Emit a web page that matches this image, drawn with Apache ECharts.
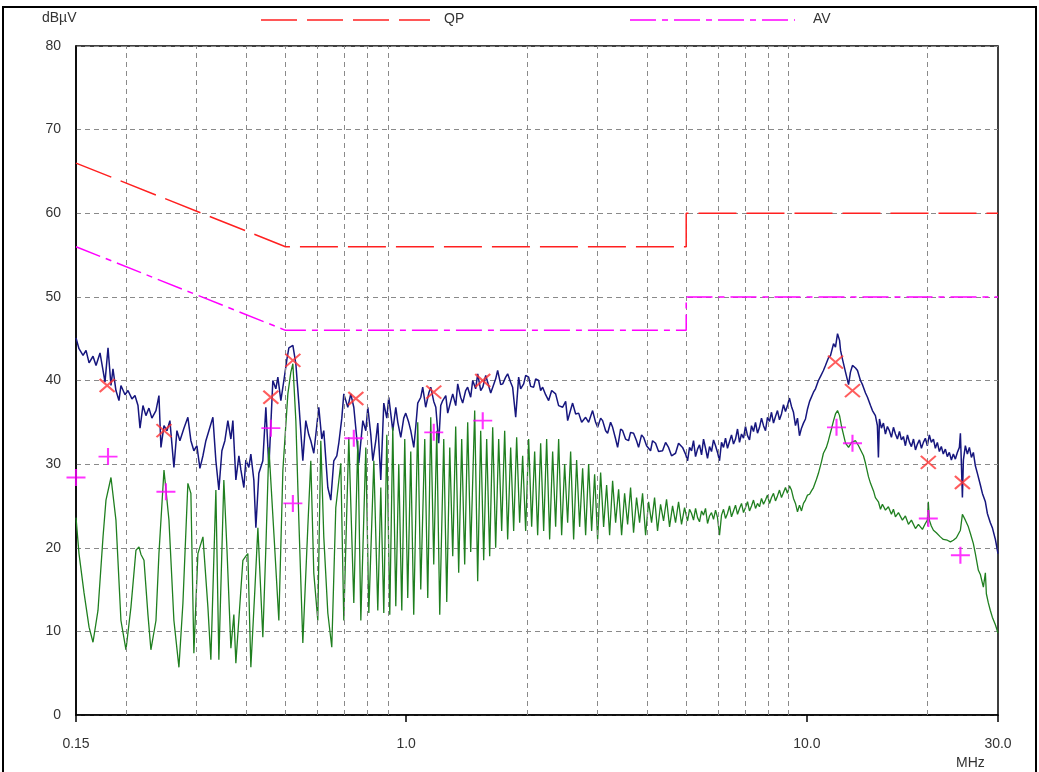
<!DOCTYPE html>
<html>
<head>
<meta charset="utf-8">
<script src="https://cdn.jsdelivr.net/npm/echarts@6/dist/echarts.min.js"></script>
<style>
  html, body { margin: 0; padding: 0; background: #fff; }
  #chart { width: 1039px; height: 772px; }
</style>
</head>
<body>
<div id="chart"></div>
<script>
// frequency in MHz, level in dBuV
let xTickValues = [0.15, 1, 10, 30];
let xGridValues = [0.2, 0.3, 0.4, 0.5, 0.6, 0.7, 0.8, 0.9, 2, 3, 4, 5, 6, 7, 8, 9, 20];

let qpLimit = [[0.15, 66], [0.5, 56], [5, 56], [5, 60], [30, 60]];
let avLimit = [[0.15, 56], [0.5, 46], [5, 46], [5, 50], [30, 50]];

let qpMarks = [[0.1794, 39.4], [0.2487, 34.0], [0.4596, 38.0], [0.5216, 42.4], [0.7490, 37.85],
  [1.172, 38.6], [1.553, 40.0], [11.79, 42.2], [13.00, 38.8], [20.10, 30.2], [24.45, 27.8]];
let avMarks = [[0.15, 28.4], [0.1803, 30.9], [0.2515, 26.7], [0.4596, 34.3], [0.5216, 25.3],
  [0.7403, 33.1], [1.172, 33.8], [1.553, 35.2], [11.86, 34.4], [13.00, 32.5], [20.10, 23.5], [24.17, 19.1]];

let peakTrace = [
  [0.150,45.1],[0.1526,43.8],[0.1562,43.0],[0.1589,43.6],[0.1617,42.1],[0.1654,42.9],[0.1683,41.8],[0.1722,43.3],
  [0.1752,41.2],[0.1772,39.8],[0.1803,43.9],[0.1834,39.4],[0.1855,41.4],[0.1887,38.8],[0.1920,37.6],[0.1942,39.4],
  [0.1988,38.3],[0.2022,38.8],[0.2069,37.8],[0.2105,38.2],[0.2142,37.0],[0.2167,34.3],[0.2204,37.0],[0.2242,35.8],
  [0.2281,36.7],[0.2320,35.5],[0.2375,36.4],[0.2416,38.2],[0.2444,32.0],[0.2487,34.6],[0.2530,34.0],[0.2573,35.2],
  [0.2633,29.6],[0.2679,34.0],[0.2725,32.8],[0.2789,34.3],[0.2853,35.6],[0.2903,32.8],[0.2953,31.6],[0.3005,32.2],
  [0.3057,29.5],[0.3111,31.0],[0.3164,32.8],[0.3219,34.0],[0.3294,35.6],[0.3351,30.4],[0.3409,26.9],[0.3469,31.6],
  [0.3529,32.8],[0.3590,35.2],[0.3653,33.0],[0.3695,35.2],[0.3759,28.1],[0.3825,31.0],[0.3869,29.3],[0.3936,27.2],
  [0.3981,30.5],[0.4050,29.6],[0.4097,31.2],[0.4168,28.1],[0.4217,22.4],[0.4290,28.9],[0.4389,30.4],[0.4466,36.8],
  [0.4544,29.6],[0.4649,40.0],[0.4730,39.0],[0.4785,40.4],[0.4868,37.6],[0.4953,40.0],[0.5039,42.5],[0.5097,43.9],
  [0.5216,44.2],[0.5306,42.0],[0.5398,37.3],[0.5523,30.4],[0.5618,35.2],[0.5716,33.5],[0.5782,32.8],[0.5882,31.3],
  [0.6054,36.8],[0.6159,33.0],[0.6230,34.0],[0.6376,27.2],[0.6486,25.7],[0.6599,30.4],[0.6714,31.0],[0.6791,32.5],
  [0.6910,35.5],[0.6989,38.4],[0.7152,36.8],[0.7276,38.4],[0.7403,36.8],[0.7533,33.0],[0.7620,30.1],[0.7797,35.2],
  [0.7932,34.0],[0.8024,36.8],[0.8163,33.5],[0.8257,30.4],[0.8400,32.8],[0.8497,34.9],[0.8645,28.1],[0.8795,37.3],
  [0.8948,35.5],[0.9051,38.0],[0.9156,36.0],[0.9262,34.0],[0.9423,36.8],[0.9532,35.0],[0.9697,33.2],[0.9863,35.5],
  [0.9978,36.1],[1.015,35.0],[1.027,34.0],[1.045,32.0],[1.057,34.5],[1.069,37.3],[1.088,38.0],[1.100,39.2],
  [1.119,36.8],[1.139,38.5],[1.152,39.2],[1.172,37.5],[1.186,36.8],[1.206,32.5],[1.220,37.0],[1.234,37.6],
  [1.256,38.2],[1.270,36.1],[1.292,37.5],[1.307,38.4],[1.330,37.0],[1.345,39.6],[1.368,38.0],[1.384,37.3],
  [1.408,38.8],[1.424,39.2],[1.449,38.0],[1.466,40.0],[1.491,39.0],[1.509,40.8],[1.535,38.8],[1.553,39.2],
  [1.580,40.6],[1.598,40.4],[1.626,38.5],[1.645,39.2],[1.673,40.2],[1.692,41.2],[1.722,39.5],[1.742,39.6],
  [1.772,40.4],[1.792,40.8],[1.823,39.8],[1.844,39.2],[1.877,35.6],[1.909,40.4],[1.931,39.0],[1.965,39.6],
  [1.988,40.6],[2.022,40.4],[2.045,39.3],[2.081,39.2],[2.105,40.2],[2.141,40.0],[2.166,38.8],[2.191,39.2],
  [2.229,38.3],[2.268,37.6],[2.308,38.8],[2.361,38.4],[2.402,37.0],[2.458,36.8],[2.501,37.5],[2.530,35.2],
  [2.574,36.5],[2.603,37.3],[2.649,36.0],[2.695,36.1],[2.742,35.0],[2.805,35.6],[2.854,35.0],[2.920,36.4],
  [2.971,35.0],[3.006,34.4],[3.058,35.5],[3.093,35.2],[3.147,34.0],[3.183,33.7],[3.238,35.0],[3.276,34.4],
  [3.333,33.0],[3.371,32.0],[3.430,34.2],[3.470,34.0],[3.529,33.0],[3.590,32.8],[3.632,33.8],[3.695,33.7],
  [3.759,32.8],[3.803,32.0],[3.869,33.5],[3.914,33.2],[3.982,32.2],[4.074,31.6],[4.121,32.8],[4.193,32.5],
  [4.266,31.5],[4.365,31.6],[4.441,32.6],[4.518,32.0],[4.596,31.0],[4.703,31.3],[4.785,32.5],[4.896,32.0],
  [4.981,31.2],[5.039,30.4],[5.097,32.0],[5.156,31.6],[5.215,32.8],[5.276,30.9],[5.337,31.8],[5.398,32.3],
  [5.461,31.1],[5.523,33.0],[5.587,31.9],[5.652,30.7],[5.717,32.1],[5.783,31.5],[5.850,32.9],[5.918,32.2],
  [5.986,31.4],[6.055,30.4],[6.125,32.6],[6.196,32.0],[6.267,33.1],[6.339,31.9],[6.413,32.7],[6.487,33.5],
  [6.562,32.4],[6.638,33.0],[6.715,34.2],[6.792,32.6],[6.871,33.6],[6.950,33.1],[7.030,34.5],[7.112,33.4],
  [7.194,32.9],[7.277,34.6],[7.361,33.9],[7.446,35.0],[7.532,33.7],[7.619,34.4],[7.707,35.5],[7.796,34.6],
  [7.886,34.0],[7.977,35.6],[8.069,35.1],[8.163,36.2],[8.257,34.9],[8.352,35.7],[8.448,36.4],[8.546,35.3],
  [8.645,36.0],[8.745,37.1],[8.846,36.3],[8.948,37.0],[9.051,37.9],[9.156,36.9],[9.262,36.2],[9.369,34.6],
  [9.478,35.5],[9.587,33.4],[9.698,34.3],[9.809,34.9],[9.923,35.4],[10.04,36.6],[10.16,37.5],[10.27,37.4],
  [10.39,38.6],[10.51,39.0],[10.69,40.0],[10.82,40.5],[11.00,41.2],[11.13,41.8],[11.32,42.7],[11.46,43.0],
  [11.66,44.4],[11.79,44.0],[11.93,45.6],[12.07,44.8],[12.14,43.6],[12.28,42.5],[12.49,41.0],[12.71,39.5],
  [12.85,41.0],[13.00,41.8],[13.23,41.5],[13.38,41.2],[13.61,40.0],[13.77,39.5],[14.01,38.5],[14.17,38.0],
  [14.42,37.0],[14.58,36.4],[14.83,35.8],[15.00,34.6],[15.09,30.8],[15.18,35.4],[15.35,34.3],[15.53,34.9],
  [15.71,33.6],[15.89,34.5],[16.07,34.0],[16.26,33.2],[16.45,34.4],[16.64,33.6],[16.83,33.0],[17.03,33.9],
  [17.22,32.9],[17.42,33.3],[17.62,32.2],[17.83,33.5],[18.04,32.6],[18.24,32.1],[18.46,33.0],[18.67,31.7],
  [18.88,32.4],[19.10,32.9],[19.32,31.9],[19.54,32.6],[19.76,33.1],[19.99,32.2],[20.22,33.5],[20.45,32.6],
  [20.70,33.0],[20.93,31.9],[21.17,32.6],[21.42,31.5],[21.66,32.1],[21.91,31.2],[22.17,31.8],[22.42,30.9],
  [22.68,31.4],[22.95,30.5],[23.21,31.2],[23.48,30.6],[23.75,31.4],[24.03,32.0],[24.17,33.7],[24.31,30.0],
  [24.45,26.0],[24.59,30.5],[24.87,32.2],[25.16,31.2],[25.45,32.0],[25.75,30.8],[26.04,31.4],[26.34,29.8],
  [26.65,28.9],[27.11,27.5],[27.43,26.5],[27.90,25.5],[28.22,24.1],[28.71,23.0],[29.04,22.4],[29.55,21.0],
  [30.0,19.3]
];

let avgTrace = [
  [0.150,23.6],[0.1526,19.3],[0.1571,14.6],[0.1617,10.5],[0.1654,8.7],[0.1702,12.5],[0.1752,21.3],[0.1782,25.7],
  [0.1834,28.4],[0.1887,23.3],[0.1942,11.3],[0.1999,7.8],[0.2057,12.9],[0.2117,19.7],[0.2154,20.1],[0.2179,19.2],
  [0.2217,18.5],[0.2268,12.0],[0.2307,7.8],[0.2375,11.3],[0.2416,19.3],[0.2487,29.3],[0.2559,23.3],[0.2633,11.3],
  [0.2710,5.7],[0.2773,13.4],[0.2853,27.7],[0.2903,26.5],[0.2953,7.4],[0.3022,19.3],[0.3111,21.3],[0.3201,12.9],
  [0.3256,6.6],[0.3351,26.9],[0.3409,6.6],[0.3508,28.1],[0.3570,20.0],[0.3653,8.0],[0.3716,12.0],[0.3759,6.2],
  [0.3869,15.0],[0.3914,18.5],[0.3981,19.0],[0.4027,19.3],[0.4097,5.7],[0.4193,15.0],[0.4266,22.4],[0.4389,9.3],
  [0.4466,20.0],[0.4544,32.0],[0.4677,21.7],[0.4812,11.3],[0.4925,29.3],[0.5068,38.4],[0.5156,41.0],[0.5216,42.0],
  [0.5306,35.2],[0.5398,23.3],[0.5523,8.6],[0.5683,22.4],[0.5782,30.4],[0.5882,17.0],[0.6019,11.3],[0.6124,32.8],
  [0.6230,21.3],[0.6376,12.2],[0.6523,8.1],[0.6675,24.8],[0.6870,30.1],[0.6989,11.3],[0.7193,33.2],[0.7403,13.4],
  [0.7577,32.8],[0.7708,11.3],[0.7932,32.0],[0.8070,12.2],[0.8306,30.4],[0.8497,12.5],[0.8645,27.2],[0.8795,12.2],
  [0.8948,33.5],[0.9103,12.0],[0.9262,34.4],[0.9423,13.0],[0.9586,30.0],[0.9753,12.5],[0.9921,33.0],[1.0093,14.0],
  [1.0269,31.5],[1.0446,12.0],[1.0690,35.0],[1.0876,15.0],[1.1129,33.0],[1.1323,14.0],[1.1520,35.6],[1.1720,18.0],
  [1.1924,34.0],[1.2131,12.0],[1.2413,33.0],[1.2629,13.5],[1.2849,32.0],[1.3072,19.0],[1.3295,34.5],[1.3526,17.0],
  [1.3762,33.0],[1.4001,18.0],[1.4244,35.0],[1.4492,19.5],[1.4829,36.4],[1.5086,16.0],[1.5349,34.0],[1.5616,18.5],
  [1.5887,33.0],[1.6163,19.0],[1.6445,34.4],[1.6729,20.0],[1.7020,33.0],[1.7316,22.0],[1.7617,34.0],[1.7923,21.0],
  [1.8234,32.0],[1.8551,22.0],[1.8873,33.2],[1.9201,23.0],[1.9535,31.0],[1.9875,22.0],[2.0221,33.0],[2.0572,22.5],
  [2.0929,31.5],[2.1293,21.5],[2.1663,32.5],[2.2040,22.0],[2.2423,33.0],[2.2813,21.0],[2.3209,31.5],[2.3612,22.5],
  [2.4023,33.0],[2.4440,21.5],[2.4865,30.0],[2.5297,23.0],[2.5737,31.5],[2.6184,21.0],[2.6639,30.5],[2.7102,22.5],
  [2.7573,29.5],[2.8053,21.5],[2.8540,30.0],[2.9036,22.0],[2.9541,28.8],[3.0054,21.0],[3.0577,29.0],[3.1108,22.5],
  [3.1649,27.5],[3.2199,21.5],[3.2758,28.0],[3.3328,23.0],[3.3907,27.0],[3.4496,21.5],[3.5096,26.5],[3.5706,22.8],
  [3.632,27.2],[3.695,21.8],[3.759,26.0],[3.825,23.0],[3.891,26.5],[3.959,21.5],[4.028,25.5],[4.098,23.0],
  [4.169,26.0],[4.241,22.0],[4.315,25.2],[4.390,23.2],[4.466,25.8],[4.544,22.5],[4.623,25.0],[4.703,23.0],
  [4.785,25.5],[4.868,22.8],[4.953,24.8],[5.039,23.2],[5.097,24.6],[5.156,24.1],[5.215,23.3],[5.276,24.7],
  [5.337,23.6],[5.398,23.1],[5.461,24.4],[5.523,23.9],[5.587,24.7],[5.652,22.9],[5.717,23.8],[5.783,24.2],
  [5.850,23.4],[5.918,24.5],[5.986,23.6],[6.055,21.5],[6.125,23.9],[6.196,24.6],[6.267,23.5],[6.339,24.1],
  [6.413,25.0],[6.487,23.7],[6.562,24.4],[6.638,25.1],[6.715,24.0],[6.792,24.7],[6.871,25.3],[6.950,24.2],
  [7.030,24.8],[7.112,25.5],[7.194,24.4],[7.277,25.0],[7.361,25.7],[7.446,24.7],[7.532,25.3],[7.619,24.9],
  [7.707,25.9],[7.796,25.2],[7.886,25.7],[7.977,26.3],[8.069,25.3],[8.163,26.0],[8.257,26.5],[8.352,25.6],
  [8.448,26.2],[8.546,26.9],[8.645,26.0],[8.745,26.6],[8.846,27.2],[8.948,26.5],[9.051,27.4],[9.156,26.9],
  [9.262,25.9],[9.369,25.3],[9.478,24.3],[9.587,25.1],[9.698,24.4],[9.809,25.3],[9.923,25.7],[10.04,26.3],
  [10.16,26.4],[10.27,26.8],[10.39,27.2],[10.57,28.2],[10.69,28.9],[10.88,30.3],[11.00,31.3],[11.19,32.0],
  [11.32,32.8],[11.52,34.2],[11.66,35.2],[11.79,36.0],[11.93,36.4],[12.07,35.8],[12.21,34.5],[12.35,33.5],
  [12.49,32.5],[12.71,32.0],[12.93,32.6],[13.23,32.8],[13.46,32.2],[13.61,32.0],[13.85,31.0],[14.01,30.1],
  [14.25,28.5],[14.42,27.7],[14.67,26.8],[14.83,26.0],[15.09,25.5],[15.27,24.6],[15.44,25.2],[15.71,24.5],
  [15.98,24.9],[16.26,24.0],[16.45,24.6],[16.64,23.7],[16.93,24.2],[17.32,23.3],[17.62,23.8],[17.93,22.8],
  [18.24,23.3],[18.67,22.3],[18.99,22.8],[19.43,22.2],[19.76,22.9],[19.99,23.3],[20.10,25.5],[20.22,23.3],
  [20.45,22.6],[20.70,22.1],[21.05,21.8],[21.54,21.3],[21.91,21.0],[22.42,20.9],[22.82,20.7],[23.21,20.9],
  [23.62,21.2],[24.17,22.1],[24.45,24.0],[24.87,23.3],[25.30,22.5],[25.60,21.7],[26.04,20.5],[26.34,19.3],
  [26.80,17.3],[27.11,16.8],[27.58,15.3],[27.90,17.0],[28.06,14.5],[28.38,13.4],[28.71,12.5],[29.04,11.7],
  [29.55,10.8],[30.0,9.8]
];

let fontFamily = "'Liberation Sans Narrow', 'Liberation Sans', Arial, sans-serif";
let textColor = '#333';

let chart = echarts.init(document.getElementById('chart'), null, { renderer: 'canvas' });

chart.setOption({
  animation: false,
  backgroundColor: '#fff',
  grid: {
    left: 76, right: 41, top: 46, bottom: 57,
    show: true, borderColor: '#000', borderWidth: 1.5
  },
  xAxis: {
    type: 'log',
    logBase: 10,
    min: 0.15,
    max: 30,
    axisLine: { lineStyle: { color: '#000', width: 1.5 } },
    axisTick: { show: true, length: 7, customValues: xTickValues, lineStyle: { color: '#000', width: 1.5 } },
    axisLabel: {
      customValues: xTickValues,
      margin: 22,
      color: textColor,
      fontSize: 14,
      fontFamily: fontFamily,
      formatter: function (v) { return v < 1 ? String(v) : Number(v).toFixed(1); }
    },
    splitLine: { show: false },
    minorTick: { show: false }
  },
  yAxis: {
    type: 'value',
    min: 0,
    max: 80,
    interval: 10,
    axisLine: { show: true, lineStyle: { color: '#000', width: 1.5 } },
    axisTick: { show: false },
    axisLabel: { margin: 15, color: textColor, fontSize: 14, fontFamily: fontFamily },
    splitLine: { lineStyle: { color: '#8a8a8a', type: [5, 4], width: 1 } }
  },
  graphic: [
    { type: 'rect', shape: { x: 3, y: 7, width: 1033, height: 800 },
      style: { fill: 'none', stroke: '#000', lineWidth: 2 }, silent: true },
    { type: 'text', left: 42, top: 11, style: { text: 'dBµV', font: '14px ' + fontFamily, fill: textColor } },
    { type: 'text', left: 956, top: 756, style: { text: 'MHz', font: '14px ' + fontFamily, fill: textColor } },
    { type: 'line', shape: { x1: 261, y1: 20, x2: 430, y2: 20 },
      style: { stroke: '#ff2020', lineWidth: 1.5, lineDash: [36, 10] } },
    { type: 'text', left: 444, top: 12, style: { text: 'QP', font: '14px ' + fontFamily, fill: textColor } },
    { type: 'line', shape: { x1: 630, y1: 20, x2: 795, y2: 20 },
      style: { stroke: '#ff00ff', lineWidth: 1.5, lineDash: [26, 6, 6, 6] } },
    { type: 'text', left: 813, top: 12, style: { text: 'AV', font: '14px ' + fontFamily, fill: textColor } }
  ],
  series: [
    {
      name: 'grid',
      type: 'line',
      data: [],
      silent: true,
      markLine: {
        silent: true,
        symbol: ['none', 'none'],
        label: { show: false },
        lineStyle: { color: '#8a8a8a', type: [5, 4], width: 1 },
        data: xGridValues.map(function (f) { return { xAxis: f }; })
      }
    },
    {
      name: 'Peak',
      type: 'line',
      data: peakTrace,
      showSymbol: false,
      z: 3,
      lineStyle: { color: '#16167e', width: 1.5 }
    },
    {
      name: 'Average',
      type: 'line',
      data: avgTrace,
      showSymbol: false,
      z: 4,
      lineStyle: { color: '#1f7f1f', width: 1.3 }
    },
    {
      name: 'QP',
      type: 'line',
      data: qpLimit,
      showSymbol: false,
      z: 5,
      lineStyle: { color: '#ff2020', width: 1.5, type: [38, 10] }
    },
    {
      name: 'AV',
      type: 'line',
      data: avLimit,
      showSymbol: false,
      z: 5,
      lineStyle: { color: '#ff00ff', width: 1.5, type: [26, 6, 6, 6] }
    },
    {
      name: 'QP marks',
      type: 'scatter',
      data: qpMarks,
      z: 6,
      symbol: 'path://M0,0L10,10M10,0L0,10',
      symbolSize: [15, 13],
      itemStyle: { color: 'rgba(0,0,0,0)', borderColor: '#ff3535', borderWidth: 2 }
    },
    {
      name: 'AV marks',
      type: 'scatter',
      data: avMarks,
      z: 6,
      symbol: 'path://M5,0L5,10M0,5L10,5',
      symbolSize: [19, 17],
      itemStyle: { color: 'rgba(0,0,0,0)', borderColor: '#ff00ff', borderWidth: 2 }
    }
  ]
});
</script>
</body>
</html>
